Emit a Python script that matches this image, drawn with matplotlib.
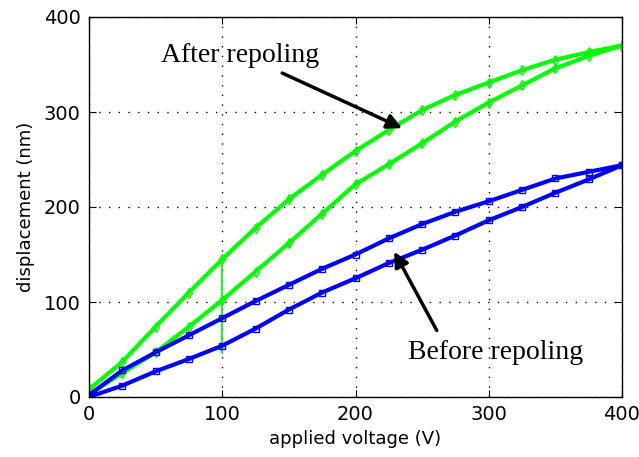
import numpy as np
import matplotlib
matplotlib.use("Agg")
import matplotlib.pyplot as plt

# values (V, nm)
volt = [0, 25, 50, 75, 100, 125, 150, 175, 200, 225, 250, 275, 300, 325, 350, 375, 400]
after_up = [3, 25, 47, 74, 102, 132, 162, 193, 224, 245, 267, 290, 310, 328, 346, 359, 370]
after_down = [8, 37, 74, 110, 145, 178, 208, 234, 259, 281, 302, 318, 331, 344, 355, 363, 370]
before_up = [0, 12, 27, 40, 54, 72, 92, 110, 125, 141, 155, 170, 186, 200, 215, 229, 244]
before_down = [2, 28, 47, 65, 83, 101, 118, 135, 150, 167, 182, 195, 206, 218, 230, 237, 244]
# short vertical step seen in the green trace at 100 V
step_v = [100, 100]
step_d = [145, 46]

fig = plt.figure(figsize=(6.39, 4.57), dpi=100)
ax = fig.add_axes([89/639, 60/457, 533/639, 380/457])

green = (0, 1, 0)
blue = (0, 0, 1)

# loops: rising branch then falling branch
ax.plot(volt + volt[::-1], after_up + after_down[::-1], color=green, lw=3,
        marker='d', ms=5, mfc='none', mew=1)
ax.plot(step_v, step_d, color=green, lw=1.3)
ax.plot(volt + volt[::-1], before_up + before_down[::-1], color=blue, lw=3,
        marker='s', ms=4.5, mfc='none', mew=1)

ax.set_xlim(0, 400)
ax.set_ylim(0, 400)
ax.set_xticks([0, 100, 200, 300, 400])
ax.set_yticks([0, 100, 200, 300, 400])
ax.grid(True, color='k', linestyle=(0, (1, 6)), linewidth=1)
ax.tick_params(direction='in', top=True, right=True, length=5, labelsize=14,
               pad=6)
for sp in ax.spines.values():
    sp.set_linewidth(1)

ax.set_xlabel('applied voltage (V)', fontsize=13, labelpad=4)
ax.set_ylabel('displacement (nm)', fontsize=13, labelpad=6)

serif = 'Liberation Serif'
arrow = dict(arrowstyle='-|>', color='k', lw=2.5, mutation_scale=22,
             shrinkA=0, shrinkB=0)
ax.text(113, 360, 'After repoling', family=serif, fontsize=20,
        ha='center', va='center')
ax.annotate('', xy=(235, 283), xytext=(145, 341), arrowprops=arrow)
ax.text(305, 47, 'Before repoling', family=serif, fontsize=20,
        ha='center', va='center')
ax.annotate('', xy=(229, 153), xytext=(261, 70), arrowprops=arrow)

fig.savefig('out.png', dpi=100)
